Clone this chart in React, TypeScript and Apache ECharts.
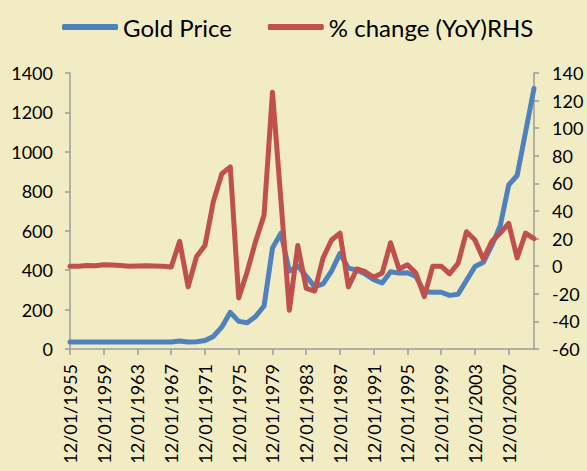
import React, { useEffect, useRef } from "react";
import * as echarts from "echarts";

const years: number[] = [];
for (let y = 1955; y <= 2010; y++) years.push(y);
const categories = years.map((y) => `12/01/${y}`);

const goldPrice = [
  35, 35, 35, 35, 35, 35, 35, 35, 35, 35, 35, 35, 35,
  41, 35, 37, 43, 64, 112, 186, 140, 133, 165, 218, 512,
  587, 395, 420, 370, 315, 330, 395, 485, 410, 400,
  380, 352, 335, 392, 385, 387, 368, 290, 288, 288,
  272, 278, 348, 418, 440, 525, 625, 832, 880, 1100, 1322,
];

const yoyChange = [
  0, 0, 0.5, 0.3, 1, 0.8, 0.5, 0, 0.2, 0.3, 0.2, 0, -0.5,
  18, -15, 7, 15, 47, 67, 72, -23, -4, 18, 37, 126,
  48, -32, 15, -16, -18, 6, 19, 24, -15, -2,
  -4, -8, -5, 17, -2, 1, -5, -22, 0, 0,
  -5.5, 2, 25, 19, 5, 18, 24, 31, 6, 24, 20,
];

const leftTicks = { min: 0, max: 1400, interval: 200 };
const rightTicks = { min: -60, max: 140, interval: 20 };

const FONT = "Lato";
const AXIS_COLOR = "#9c9c9c";

export default function App() {
  const ref = useRef<HTMLDivElement>(null);
  useEffect(() => {
    if (!ref.current) return;
    const chart = echarts.init(ref.current, undefined, { renderer: "svg" });
    chart.setOption({
      animation: false,
      backgroundColor: "#F2ECC4",
      textStyle: { fontFamily: FONT },
      legend: {
        top: 9,
        left: 57,
        itemWidth: 56,
        itemHeight: 6,
        itemGap: 36,
        icon: "roundRect",
        textStyle: { fontSize: 24, color: "#000", fontFamily: FONT, lineHeight: 26 },
        data: ["Gold Price", "% change (YoY)RHS"],
      },
      grid: { left: 70, right: 53, top: 73, bottom: 122 },
      xAxis: {
        type: "category",
        data: categories,
        boundaryGap: false,
        axisLine: { show: true, lineStyle: { color: AXIS_COLOR, width: 1.5 } },
        axisTick: { show: true, interval: 3, length: 6, lineStyle: { color: AXIS_COLOR, width: 1.5 } },
        axisLabel: {
          interval: 3,
          rotate: 90,
          margin: 15,
          fontSize: 18,
          color: "#000",
          fontFamily: FONT,
        },
        splitLine: { show: false },
      },
      yAxis: [
        {
          type: "value",
          position: "left",
          min: leftTicks.min,
          max: leftTicks.max,
          interval: leftTicks.interval,
          axisLine: { show: true, lineStyle: { color: AXIS_COLOR, width: 1.5 } },
          axisTick: { show: true, length: 5, lineStyle: { color: AXIS_COLOR, width: 1.5 } },
          axisLabel: {
            fontSize: 18,
            color: "#000",
            margin: 17,
            fontFamily: FONT,
            formatter: (v: number) => String(v),
          },
          splitLine: { show: false },
        },
        {
          type: "value",
          position: "right",
          min: rightTicks.min,
          max: rightTicks.max,
          interval: rightTicks.interval,
          axisLine: { show: true, lineStyle: { color: AXIS_COLOR, width: 1.5 } },
          axisTick: { show: true, length: 5, lineStyle: { color: AXIS_COLOR, width: 1.5 } },
          axisLabel: {
            fontSize: 18,
            color: "#000",
            margin: 18,
            fontFamily: FONT,
            formatter: (v: number) => String(v),
          },
          splitLine: { show: false },
        },
      ],
      series: [
        {
          name: "Gold Price",
          type: "line",
          yAxisIndex: 0,
          data: goldPrice,
          showSymbol: false,
          symbol: "none",
          color: "#4F81BD",
          lineStyle: { width: 5, color: "#4F81BD", join: "round", cap: "round" },
          z: 2,
        },
        {
          name: "% change (YoY)RHS",
          type: "line",
          yAxisIndex: 1,
          data: yoyChange,
          showSymbol: false,
          symbol: "none",
          color: "#C0504D",
          lineStyle: { width: 5, color: "#C0504D", join: "round", cap: "round" },
          z: 3,
        },
      ],
    });
    return () => chart.dispose();
  }, []);
  return (
    <div
      ref={ref}
      style={{ position: "fixed", left: 0, top: 0, width: 587, height: 471 }}
    />
  );
}
